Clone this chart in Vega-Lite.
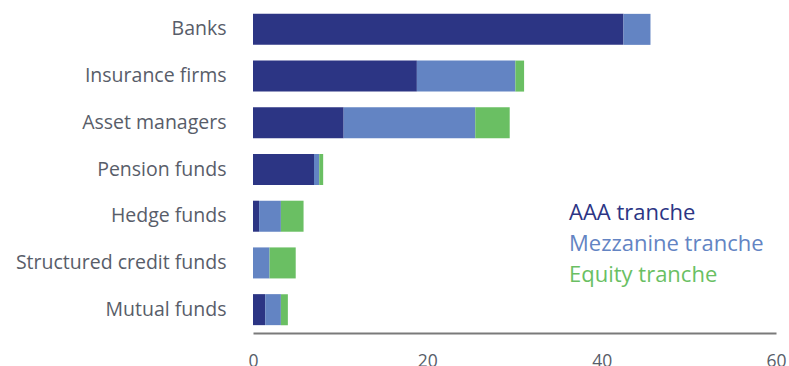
{
  "$schema": "https://vega.github.io/schema/vega-lite/v6.json",
  "width": 523,
  "height": 327,
  "autosize": "none",
  "padding": {"left": 253, "top": 6, "right": 13, "bottom": 33},
  "background": "white",
  "config": {"view": {"stroke": null}, "font": "Open Sans"},
  "data": {
    "values": [
      {"sector": "Banks", "tranche": "AAA tranche", "value": 42.5, "ord": 1},
      {"sector": "Banks", "tranche": "Mezzanine tranche", "value": 3.1, "ord": 2},
      {"sector": "Insurance firms", "tranche": "AAA tranche", "value": 18.8, "ord": 1},
      {"sector": "Insurance firms", "tranche": "Mezzanine tranche", "value": 11.3, "ord": 2},
      {"sector": "Insurance firms", "tranche": "Equity tranche", "value": 1.0, "ord": 3},
      {"sector": "Asset managers", "tranche": "AAA tranche", "value": 10.4, "ord": 1},
      {"sector": "Asset managers", "tranche": "Mezzanine tranche", "value": 15.1, "ord": 2},
      {"sector": "Asset managers", "tranche": "Equity tranche", "value": 3.95, "ord": 3},
      {"sector": "Pension funds", "tranche": "AAA tranche", "value": 7.0, "ord": 1},
      {"sector": "Pension funds", "tranche": "Mezzanine tranche", "value": 0.6, "ord": 2},
      {"sector": "Pension funds", "tranche": "Equity tranche", "value": 0.45, "ord": 3},
      {"sector": "Hedge funds", "tranche": "AAA tranche", "value": 0.7, "ord": 1},
      {"sector": "Hedge funds", "tranche": "Mezzanine tranche", "value": 2.5, "ord": 2},
      {"sector": "Hedge funds", "tranche": "Equity tranche", "value": 2.6, "ord": 3},
      {"sector": "Structured credit funds", "tranche": "Mezzanine tranche", "value": 1.9, "ord": 2},
      {"sector": "Structured credit funds", "tranche": "Equity tranche", "value": 3.0, "ord": 3},
      {"sector": "Mutual funds", "tranche": "AAA tranche", "value": 1.4, "ord": 1},
      {"sector": "Mutual funds", "tranche": "Mezzanine tranche", "value": 1.8, "ord": 2},
      {"sector": "Mutual funds", "tranche": "Equity tranche", "value": 0.8, "ord": 3}
    ]
  },
  "mark": {"type": "bar"},
  "encoding": {
    "y": {
      "field": "sector",
      "type": "nominal",
      "sort": ["Banks", "Insurance firms", "Asset managers", "Pension funds", "Hedge funds", "Structured credit funds", "Mutual funds"],
      "scale": {"paddingInner": 0.336, "paddingOuter": 0.168},
      "axis": {
        "title": null,
        "domain": false,
        "ticks": false,
        "labelPadding": 27,
        "labelFontSize": 19.5,
        "labelColor": "#585d69",
        "labelFont": "Open Sans",
        "labelLimit": 300
      }
    },
    "x": {
      "field": "value",
      "type": "quantitative",
      "stack": "zero",
      "scale": {"domain": [0, 60], "nice": false},
      "axis": {
        "title": null,
        "values": [0, 20, 40, 60],
        "grid": false,
        "ticks": false,
        "tickSize": 0,
        "domainColor": "#7a7a7a",
        "domainWidth": 2,
        "labelPadding": 19,
        "labelFontSize": 17.5,
        "labelColor": "#585d69",
        "labelFont": "Open Sans",
        "labelFlush": false,
        "labelOverlap": false
      }
    },
    "color": {
      "field": "tranche",
      "type": "nominal",
      "scale": {
        "domain": ["AAA tranche", "Mezzanine tranche", "Equity tranche"],
        "range": ["#2c3584", "#6384c3", "#6abf63"]
      },
      "legend": {
        "title": null,
        "orient": "none",
        "legendX": 294,
        "legendY": 196,
        "padding": 0,
        "symbolSize": 0,
        "symbolStrokeWidth": 0,
        "symbolOpacity": 0,
        "labelOffset": 0,
        "labelFontSize": 22,
        "labelFont": "Open Sans",
        "labelLimit": 400,
        "rowPadding": 9,
        "encode": {
          "labels": {"update": {"fill": {"scale": "color", "field": "value"}}}
        }
      }
    },
    "order": {"field": "ord", "type": "quantitative"}
  }
}
